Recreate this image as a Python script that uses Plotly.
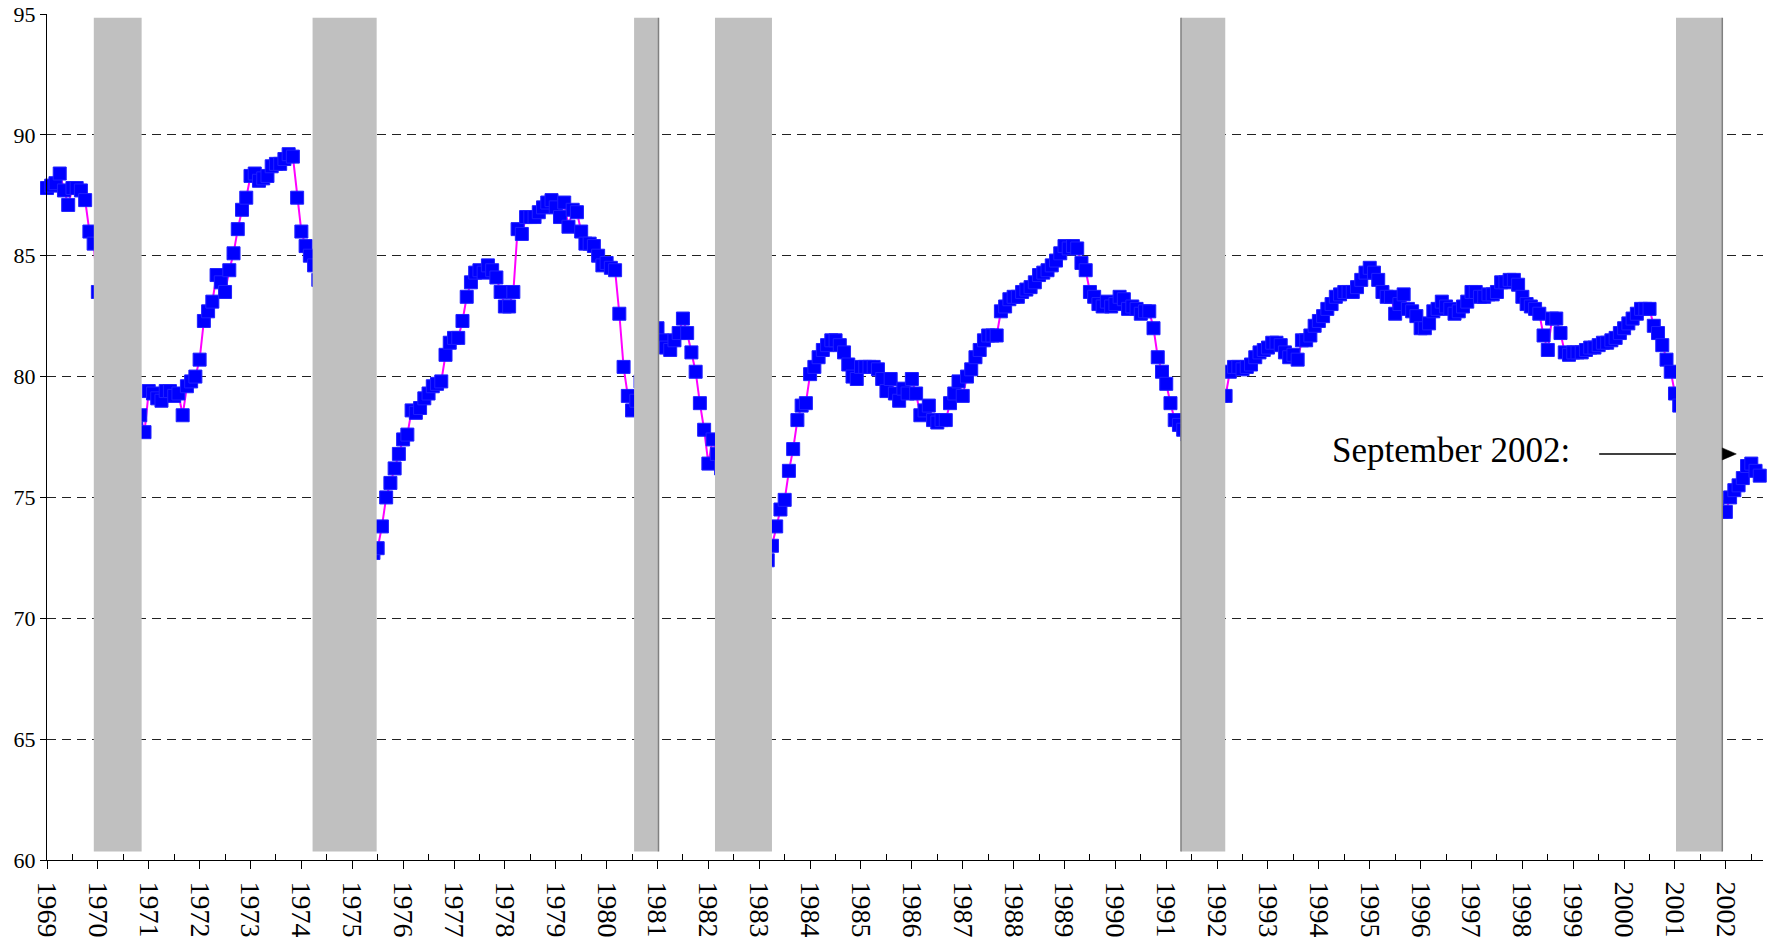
import plotly.graph_objects as go

# Monthly values, Jan 1969 .. Sep 2002
start_year = 1969
values = [
    87.8, 87.9, 88.0, 88.4, 87.7, 87.1, 87.8, 87.8, 87.7, 87.3, 86.0, 85.5,  # 1969
    83.5, 82.6, 81.9, 81.2, 80.6, 80.0, 79.5, 79.0, 78.6, 78.1, 78.4, 77.7,  # 1970
    79.4, 79.3, 79.1, 79.0, 79.4, 79.4, 79.2, 79.3, 78.4, 79.6, 79.8, 80.0,  # 1971
    80.7, 82.3, 82.7, 83.1, 84.2, 83.9, 83.5, 84.4, 85.1, 86.1, 86.9, 87.4,  # 1972
    88.3, 88.4, 88.1, 88.2, 88.3, 88.7, 88.8, 88.8, 89.0, 89.2, 89.1, 87.4,  # 1973
    86.0, 85.4, 85.0, 84.6, 84.0, 83.2, 82.5, 81.6, 80.5, 79.2, 77.8, 76.4,  # 1974
    75.2, 74.2, 73.5, 73.0, 72.8, 72.7, 72.9, 73.8, 75.0, 75.6, 76.2, 76.8,  # 1975
    77.4, 77.6, 78.6, 78.5, 78.7, 79.1, 79.3, 79.6, 79.7, 79.8, 80.9, 81.4,  # 1976
    81.6, 81.6, 82.3, 83.3, 83.9, 84.3, 84.4, 84.3, 84.6, 84.4, 84.1, 83.5,  # 1977
    82.9, 82.9, 83.5, 86.1, 85.9, 86.6, 86.6, 86.6, 86.8, 87.0, 87.2, 87.3,  # 1978
    87.0, 86.6, 87.2, 86.2, 86.9, 86.8, 86.0, 85.5, 85.5, 85.4, 85.0, 84.6,  # 1979
    84.7, 84.5, 84.4, 82.6, 80.4, 79.2, 78.6, 79.0, 79.8, 80.6, 81.3, 81.8,  # 1980
    82.0, 81.5, 81.2, 81.1, 81.5, 81.8, 82.4, 81.8, 81.0, 80.2, 78.9, 77.8,  # 1981
    76.4, 77.4, 76.8, 76.2, 75.8, 75.5, 75.0, 74.6, 74.2, 73.6, 73.2, 72.8,  # 1982
    72.6, 72.5, 72.4, 73.0, 73.8, 74.5, 74.9, 76.1, 77.0, 78.2, 78.8, 78.9,  # 1983
    80.1, 80.4, 80.8, 81.1, 81.3, 81.5, 81.5, 81.3, 81.0, 80.5, 80.0, 79.9,  # 1984
    80.4, 80.4, 80.4, 80.4, 80.3, 79.9, 79.4, 79.9, 79.3, 79.0, 79.5, 79.3,  # 1985
    79.9, 79.3, 78.4, 78.6, 78.8, 78.2, 78.1, 78.2, 78.2, 78.9, 79.3, 79.8,  # 1986
    79.2, 80.0, 80.3, 80.8, 81.1, 81.5, 81.7, 81.7, 81.7, 82.7, 82.9, 83.2,  # 1987
    83.3, 83.3, 83.5, 83.6, 83.7, 83.9, 84.2, 84.3, 84.4, 84.6, 84.8, 85.1,  # 1988
    85.4, 85.3, 85.4, 85.3, 84.7, 84.4, 83.5, 83.3, 83.0, 82.9, 83.1, 82.9,  # 1989
    83.0, 83.3, 83.2, 82.8, 82.9, 82.8, 82.6, 82.7, 82.7, 82.0, 80.8, 80.2,  # 1990
    79.7, 78.9, 78.2, 78.0, 77.8, 77.6, 77.8, 78.0, 78.3, 78.5, 78.7, 78.9,  # 1991
    79.0, 79.2, 79.2, 80.2, 80.4, 80.4, 80.3, 80.4, 80.5, 80.8, 81.0, 81.1,  # 1992
    81.2, 81.4, 81.4, 81.3, 81.0, 80.8, 80.9, 80.7, 81.5, 81.5, 81.7, 82.1,  # 1993
    82.3, 82.5, 82.8, 83.0, 83.3, 83.4, 83.5, 83.5, 83.5, 83.7, 84.0, 84.3,  # 1994
    84.5, 84.3, 84.0, 83.5, 83.3, 83.3, 82.6, 83.0, 83.4, 82.8, 82.7, 82.5,  # 1995
    82.0, 82.0, 82.2, 82.7, 82.8, 83.1, 82.9, 82.8, 82.6, 82.7, 82.9, 83.1,  # 1996
    83.5, 83.5, 83.3, 83.3, 83.4, 83.4, 83.5, 83.9, 83.9, 84.0, 84.0, 83.8,  # 1997
    83.3, 83.0, 82.9, 82.8, 82.6, 81.7, 81.1, 82.4, 82.4, 81.8, 81.0, 80.9,  # 1998
    81.0, 81.0, 81.0, 81.1, 81.2, 81.2, 81.3, 81.4, 81.4, 81.5, 81.6, 81.8,  # 1999
    82.0, 82.2, 82.4, 82.6, 82.8, 82.8, 82.8, 82.1, 81.8, 81.3, 80.7, 80.2,  # 2000
    79.3, 78.8, 78.2, 77.6, 77.1, 76.5, 76.0, 75.6, 75.2, 74.9, 74.6, 74.4,  # 2001
    74.4, 75.0, 75.3, 75.5, 75.8, 76.3, 76.4, 76.1, 75.9,                    # 2002
]

# Recession bands (decimal years)
recession_starts = [1969.92, 1974.22, 1980.54, 1982.13, 1991.29, 2001.02]
recession_ends = [1970.86, 1975.48, 1981.02, 1983.25, 1992.16, 2001.93]
# Edges of bands that show a thin darker outline
edge_lines = [1981.02, 1991.29, 2001.93]

year_labels = list(range(1969, 2003))

annot_text = "September 2002:"
annot_text_x = 1994.22
annot_text_y = 76.95
arrow_tail_x = 1999.51
arrow_base_x = 2001.93
arrow_y = 76.8

x_vals = [start_year + i / 12 for i in range(len(values))]

fig = go.Figure()
fig.add_trace(go.Scatter(
    x=x_vals, y=values, mode="lines+markers",
    line=dict(color="#FF00FF", width=2),
    marker=dict(symbol="square", size=13, color="#0000FF",
                line=dict(color="#2020FF", width=1)),
    cliponaxis=False, showlegend=False, hoverinfo="skip",
))

shapes = []
# arrow line (drawn first so the band covers it)
shapes.append(dict(type="line", xref="x", yref="y", x0=arrow_tail_x, x1=arrow_base_x,
                   y0=arrow_y, y1=arrow_y, line=dict(color="black", width=1.5), layer="above"))
for s, e in zip(recession_starts, recession_ends):
    shapes.append(dict(type="rect", xref="x", yref="y", x0=s, x1=e, y0=60.35, y1=94.85,
                       fillcolor="#C0C0C0", line=dict(width=0), layer="above"))
for xe in edge_lines:
    shapes.append(dict(type="line", xref="x", yref="y", x0=xe, x1=xe, y0=60.35, y1=94.85,
                       line=dict(color="#808080", width=1.5), layer="above"))
# arrowhead
shapes.append(dict(type="path", xref="x", yref="y", xsizemode="pixel", ysizemode="pixel",
                   xanchor=arrow_base_x, yanchor=arrow_y,
                   path="M0,-6 L14,0 L0,6 Z", fillcolor="black",
                   line=dict(color="black", width=0.5), layer="above"))

fig.update_layout(
    width=1776, height=947,
    margin=dict(l=47, r=13, t=14, b=87, autoexpand=False),
    paper_bgcolor="white", plot_bgcolor="white",
    font=dict(family="Liberation Serif", color="black"),
    shapes=shapes,
    annotations=[dict(text=annot_text, x=annot_text_x, y=annot_text_y, xref="x", yref="y",
                      xanchor="left", yanchor="middle", showarrow=False,
                      font=dict(family="Liberation Serif", size=35, color="black"))],
    xaxis=dict(
        range=[1969, 2002.73], tickmode="array", tickvals=year_labels,
        ticktext=[str(y) for y in year_labels], tickangle=90, automargin=False,
        ticks="outside", ticklen=8, tickwidth=1, tickcolor="black",
        ticklabelstandoff=7,
        tickfont=dict(family="Liberation Serif", size=28, color="black"),
        showline=True, linecolor="black", linewidth=1, showgrid=False, zeroline=False,
        minor=dict(tickvals=[y + 0.5 for y in year_labels], ticks="inside", ticklen=6,
                   tickcolor="black", tickwidth=1, showgrid=False),
    ),
    yaxis=dict(
        range=[60, 95], tickmode="linear", tick0=60, dtick=5, automargin=False,
        ticks="outside", ticklen=6, tickwidth=1, tickcolor="black",
        tickfont=dict(family="Liberation Serif", size=22, color="black"),
        showline=True, linecolor="black", linewidth=1,
        showgrid=True, gridcolor="#222222", gridwidth=1, griddash="9px,6px",
        zeroline=False,
    ),
)

fig.write_html("out.html", config={"displayModeBar": False},
               post_script="document.body.style.margin='0px';document.body.style.overflow='hidden';")
